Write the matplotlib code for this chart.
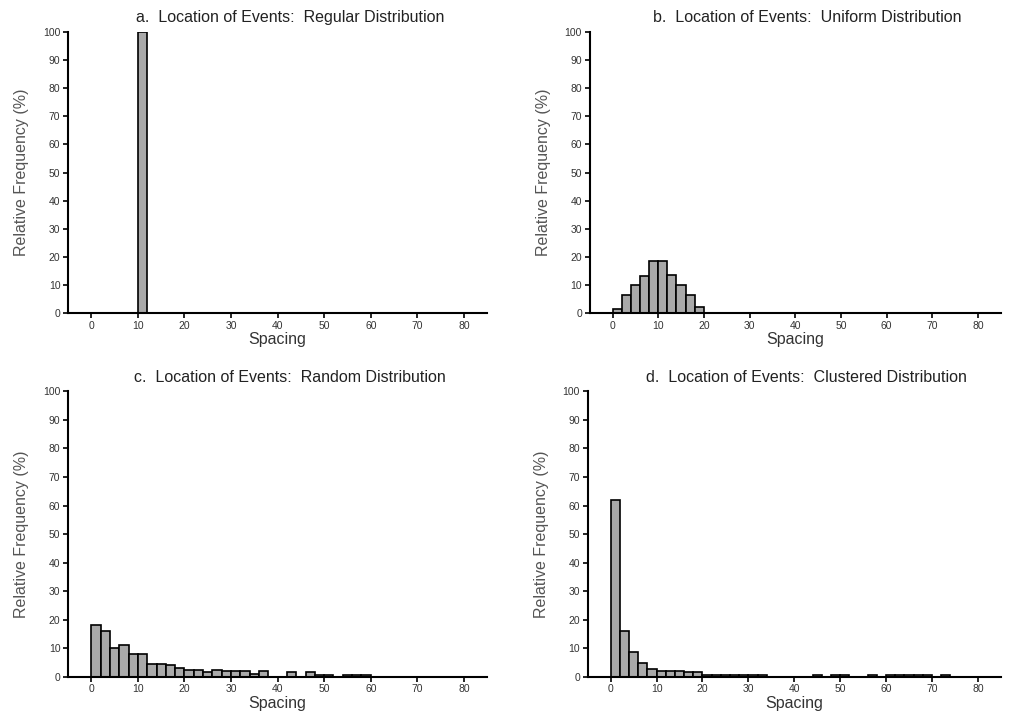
import numpy as np
import matplotlib
matplotlib.use("Agg")
import matplotlib.pyplot as plt

plt.rcParams['font.family'] = ['Liberation Sans', 'DejaVu Sans']

# Histogram data: bin width 2, left edges start at 0 (relative frequency, %)
BIN_WIDTH = 2
regular_start = 10
regular_freq = [100]
uniform_freq = [1.5, 6.5, 10, 13, 18.5, 18.5, 13.5, 10, 6.5, 2]
random_freq = [18, 16, 10, 11, 8, 8, 4.5, 4.5, 4, 3, 2.5, 2.5, 1.5, 2.5, 2,
               2, 2, 1, 2, 0, 0, 1.5, 0, 1.5, 0.5, 0.5, 0, 0.5, 0.5, 0.5]
clustered_freq = [62, 16, 8.5, 4.8, 2.8, 2, 2, 2, 1.5, 1.5,
                  0.5, 0.5, 0.5, 0.5, 0.5, 0.5, 0.5,
                  0, 0, 0, 0, 0, 0.5, 0, 0.5, 0.5, 0, 0, 0.5, 0,
                  0.5, 0.5, 0.5, 0.5, 0.5, 0, 0.5]

titles = ["a.  Location of Events:  Regular Distribution",
          "b.  Location of Events:  Uniform Distribution",
          "c.  Location of Events:  Random Distribution",
          "d.  Location of Events:  Clustered Distribution"]
x_ticks = list(range(0, 90, 10))
y_ticks = list(range(0, 110, 10))

panels = [(regular_start, regular_freq), (0, uniform_freq),
          (0, random_freq), (0, clustered_freq)]

# axes rectangles in figure fraction
rects = [[0.067, 0.561, 0.413, 0.394],
         [0.581, 0.561, 0.405, 0.394],
         [0.067, 0.051, 0.413, 0.400],
         [0.579, 0.051, 0.407, 0.400]]

fig = plt.figure(figsize=(10.15, 7.13), dpi=100)

for rect, title, (start, freq) in zip(rects, titles, panels):
    ax = fig.add_axes(rect)
    freq = np.array(freq, dtype=float)
    lefts = start + BIN_WIDTH * np.arange(len(freq))
    keep = freq > 0
    ax.bar(lefts[keep], freq[keep], width=BIN_WIDTH, align='edge',
           color='#a9a9a9', edgecolor='black', linewidth=1.2)
    ax.set_xlim(-5, 85)
    ax.set_ylim(0, 100)
    ax.set_xticks(x_ticks)
    ax.set_yticks(y_ticks)
    for side in ['top', 'right']:
        ax.spines[side].set_visible(False)
    for side in ['left', 'bottom']:
        ax.spines[side].set_linewidth(1.5)
    ax.tick_params(direction='out', length=3.5, width=1.2, labelsize=7.5,
                   labelcolor='#333333', pad=2)
    ax.set_title(title, fontsize=11.5, pad=7, color='#222222', x=0.53)
    ax.set_xlabel("Spacing", fontsize=11.5, labelpad=1, color='#333333')
    ax.set_ylabel("Relative Frequency (%)", fontsize=11.5, labelpad=10,
                  color='#555555')

fig.savefig("out.png", dpi=100)
